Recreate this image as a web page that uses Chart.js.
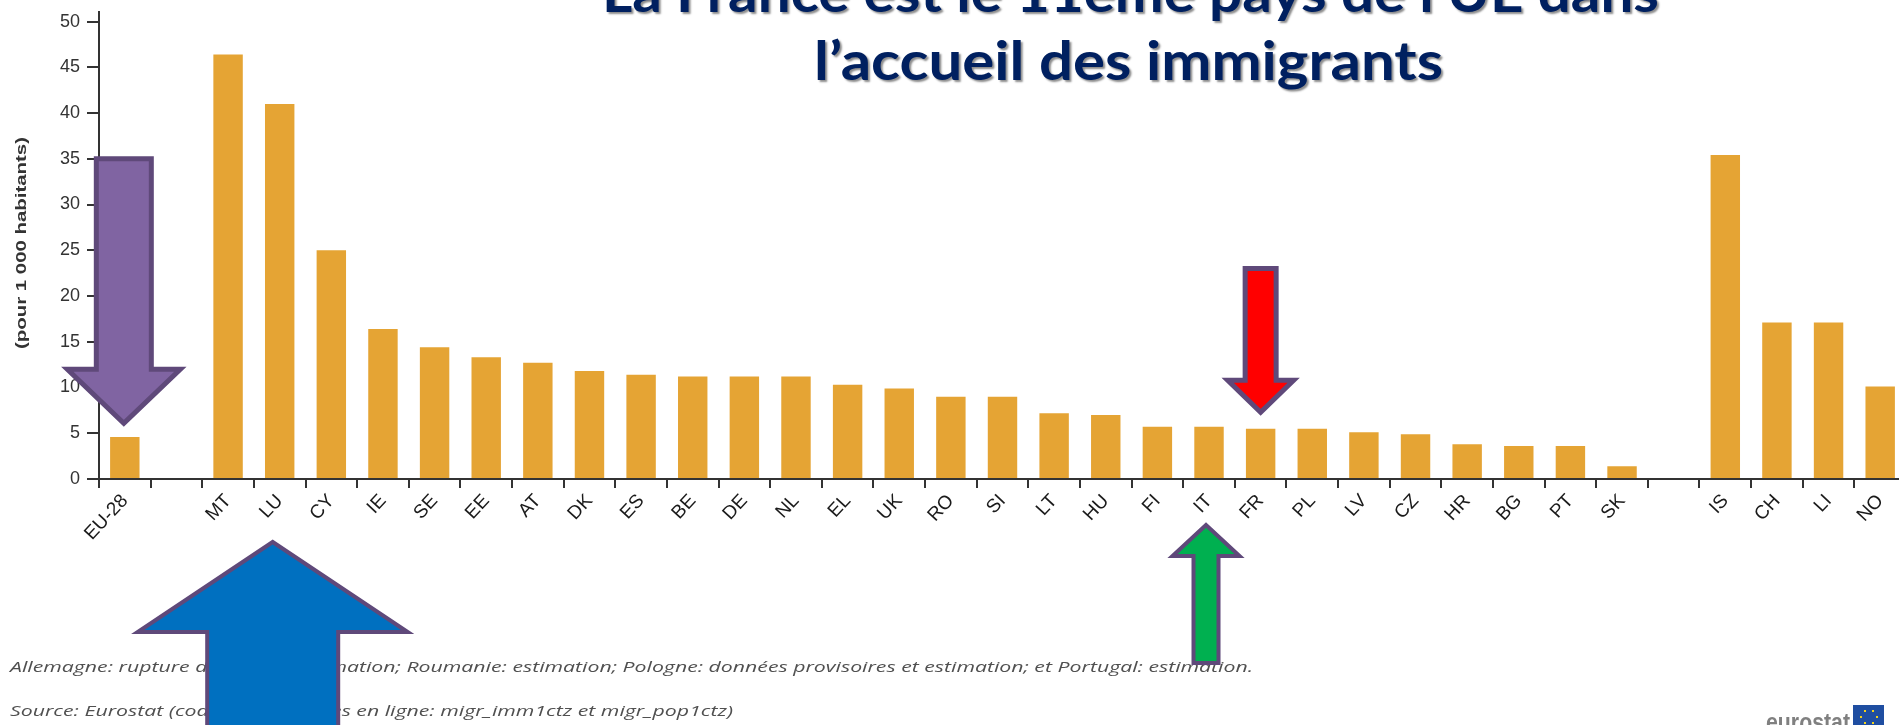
<!DOCTYPE html>
<html>
<head>
<meta charset="utf-8">
<script src="https://cdn.jsdelivr.net/npm/chart.js@4/dist/chart.umd.min.js"></script>
<style>
html, body { margin: 0; padding: 0; overflow: hidden; background: #fff; }
#wrap { width: 1930px; height: 725px; }
</style>
</head>
<body>
<div id="wrap"><canvas id="myChart" width="1930" height="725"></canvas></div>
<script>
// categories (empty strings are the gaps between groups)
var countries = ['EU-28', '', 'MT', 'LU', 'CY', 'IE', 'SE', 'EE', 'AT', 'DK', 'ES', 'BE', 'DE', 'NL', 'EL', 'UK',
    'RO', 'SI', 'LT', 'HU', 'FI', 'IT', 'FR', 'PL', 'LV', 'CZ', 'HR', 'BG', 'PT', 'SK', '', 'IS', 'CH', 'LI', 'NO'];
// immigrants per 1 000 inhabitants
var immigrants = [4.6, null, 46.4, 41.0, 25.0, 16.4, 14.4, 13.3, 12.7, 11.8, 11.4, 11.2, 11.2, 11.2, 10.3, 9.9,
    9.0, 9.0, 7.2, 7.0, 5.7, 5.7, 5.5, 5.5, 5.1, 4.9, 3.8, 3.6, 3.6, 1.4, null, 35.4, 17.1, 17.1, 10.1];
var yTicks = [0, 5, 10, 15, 20, 25, 30, 35, 40, 45, 50];

var yTitle = '(pour 1 000 habitants)';
var titleLines = ['La France est le 11ème pays de l\u2019UE dans', 'l\u2019accueil des immigrants'];
var notes = [
    'Allemagne: rupture de série et estimation; Roumanie: estimation; Pologne: données provisoires et estimation; et Portugal: estimation.',
    'Source: Eurostat (codes des données en ligne: migr_imm1ctz et migr_pop1ctz)'
];

// draw text squeezed/stretched to a given width
function fitText(ctx, text, x0, x1, baseline) {
    var w = ctx.measureText(text).width;
    ctx.save();
    ctx.translate(x0, baseline);
    ctx.scale((x1 - x0) / w, 1);
    ctx.fillText(text, 0, 0);
    ctx.restore();
}

function arrow(ctx, cx, yTail, yBase, yTip, sw, hw, fill, stroke, lw) {
    ctx.save();
    ctx.beginPath();
    ctx.moveTo(cx - sw, yTail);
    ctx.lineTo(cx - sw, yBase);
    ctx.lineTo(cx - hw, yBase);
    ctx.lineTo(cx, yTip);
    ctx.lineTo(cx + hw, yBase);
    ctx.lineTo(cx + sw, yBase);
    ctx.lineTo(cx + sw, yTail);
    ctx.closePath();
    ctx.fillStyle = fill;
    ctx.fill();
    ctx.lineJoin = 'miter';
    ctx.lineWidth = lw;
    ctx.strokeStyle = stroke;
    ctx.stroke();
    ctx.restore();
}

var decor = {
    id: 'decor',
    afterDraw: function (chart) {
        var ctx = chart.ctx;
        var xs = chart.scales.x, ys = chart.scales.y;
        function xp(i) { return xs.getPixelForValue(i); }
        function yp(v) { return ys.getPixelForValue(v); }

        // y axis title
        ctx.save();
        ctx.fillStyle = '#333';
        ctx.font = 'bold 15px "Liberation Sans"';
        ctx.textBaseline = 'middle';
        ctx.translate(22, 243);
        ctx.rotate(-Math.PI / 2);
        fitText(ctx, yTitle, -106, 106, 0);
        ctx.restore();

        // title
        ctx.save();
        ctx.fillStyle = '#002060';
        ctx.font = 'bold 54px Lato';
        ctx.shadowColor = 'rgba(0,0,0,0.45)';
        ctx.shadowOffsetX = 2;
        ctx.shadowOffsetY = 2;
        ctx.shadowBlur = 2;
        fitText(ctx, titleLines[0], 602, 1659, 12);
        fitText(ctx, titleLines[1], 814, 1443, 80);
        ctx.restore();

        // notes
        ctx.save();
        ctx.fillStyle = '#505050';
        ctx.font = 'italic 15px "Open Sans"';
        fitText(ctx, notes[0], 10, 1253, 672);
        fitText(ctx, notes[1], 10, 733, 716);
        ctx.restore();

        // eurostat logo
        ctx.save();
        ctx.fillStyle = '#808080';
        ctx.font = 'bold 26px "Liberation Sans"';
        fitText(ctx, 'eurostat', 1766, 1850, 731);
        ctx.fillStyle = '#1f4ea1';
        ctx.fillRect(1853, 705, 31, 25);
        ctx.fillStyle = '#f2d21b';
        [[1864, 710], [1872, 710], [1860, 716], [1876, 716], [1864, 722], [1872, 722]].forEach(function (p) {
            ctx.fillRect(p[0], p[1], 2, 2);
        });
        ctx.restore();

        // arrows
        arrow(ctx, xp(0) - 1, yp(35), yp(12), yp(6.1), 27.5, 56.5, '#8064A2', '#5F497A', 5);
        arrow(ctx, xp(22), yp(23), yp(10.8), yp(7.3), 15.5, 33, '#FF0000', '#5F497A', 5);
        arrow(ctx, xp(3) - 7, 745, 632, 542, 65.5, 135, '#0070C0', '#5F497A', 4);
        arrow(ctx, xp(21) - 3, 663, 556, 525, 12.5, 33.5, '#00B050', '#5F497A', 4);
    }
};

var ctx = document.getElementById('myChart').getContext('2d');
var myChart = new Chart(ctx, {
    type: 'bar',
    data: {
        labels: countries,
        datasets: [{
            label: 'Immigrants',
            data: immigrants,
            backgroundColor: '#E5A434',
            borderWidth: 0,
            barPercentage: 0.57,
            categoryPercentage: 1
        }]
    },
    options: {
        responsive: false,
        animation: false,
        devicePixelRatio: 1,
        layout: {
            padding: { top: 0, left: 0, right: 24, bottom: 0 }
        },
        plugins: {
            legend: { display: false },
            tooltip: { enabled: false }
        },
        scales: {
            x: {
                offset: true,
                grid: {
                    offset: true,
                    drawOnChartArea: false,
                    drawTicks: true,
                    tickLength: 9,
                    color: '#333',
                    lineWidth: 2
                },
                border: { color: '#333', width: 2 },
                ticks: {
                    autoSkip: false,
                    maxRotation: 47,
                    minRotation: 47,
                    padding: 2,
                    color: '#1a1a1a',
                    font: { family: 'Liberation Sans', size: 19 }
                },
                afterFit: function (scale) { scale.height = 246; }
            },
            y: {
                min: 0,
                max: 51,
                afterBuildTicks: function (scale) {
                    scale.ticks = yTicks.map(function (v) { return { value: v }; });
                },
                grid: {
                    drawOnChartArea: false,
                    drawTicks: true,
                    tickLength: 12,
                    color: '#333',
                    lineWidth: 2
                },
                border: { color: '#333', width: 2 },
                ticks: {
                    padding: 7,
                    color: '#333',
                    font: { family: 'Liberation Sans', size: 18, lineHeight: 0.6 }
                },
                afterFit: function (scale) { scale.width = 99; }
            }
        }
    },
    plugins: [decor]
});
</script>
</body>
</html>
